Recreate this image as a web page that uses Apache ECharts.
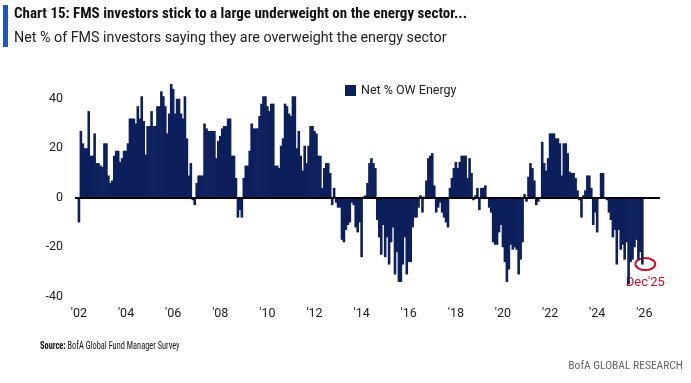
<!DOCTYPE html>
<html><head><meta charset="utf-8">
<script src="https://cdn.jsdelivr.net/npm/echarts@6/dist/echarts.min.js"></script>
<style>html,body{margin:0;padding:0;background:#fff}#c{width:691px;height:383px}</style>
</head><body><div id="c"></div>
<script>
const seriesName = 'Net % OW Energy';
const startYear = 2002;
// Net % of FMS investors overweight energy, monthly Jan 2002 .. Dec 2025
const netOwEnergy = [
  -10, 27, 22, 20, 20, 35, 17, 17, 26, 14, 14, 13,
  12.5, 22, 22, 9, 6, 7, 17, 19, 19, 14.5, 16, 19,
  19, 22, 32, 32, 32, 30, 37, 32, 41, 31, 17.5, 29,
  29, 35, 29, 29, 37, 37, 43, 41, 37, 26, 34, 46,
  44, 34, 40, 40, 34, 32, 41, 24, 9, 14, -1, -3,
  6, 9, 9, 9, 30, 28, 27, 27, 27, 27, 16, 23,
  25, 28, 29, 29, 32, 32, 17, 17, 8, -8, -5, -8,
  8, 13, 13, 19, 30, 28, 28, 28, 33, 38, 41, 41,
  37, 35, 38, 38, 13, 13, 12, 21, 24, 38, 37, 34,
  33, 41, 41, 20, 27, 17, 11, 21, 14, 21, 29, 29,
  27, 26, 17, 17, 4, 12, 14, 14, 10, -3, 4, -2,
  -4, -4, -17, -18, -13, -11, -10, -2, -3, -12, -14, -10,
  -24, 0.5, 1, 6, 14, 16, 14, 12, -9, -16, -23, -11,
  -24, -16, -27, -18, -12, -31, -22, -34, -34, -27, -16, -31,
  -26, -26, -12, -8, -8, -4, 1, -6, 0.5, 7, 16, 17,
  18, 5, -6, -4, -2, -6, -8, -10, -12, 4, 8, 12,
  14.5, 12, 14.5, 17, 17, 17, 8, 16, 10, -1, 1, 4,
  -5, 4, 4, 5, 0, -4, -6, -18, -19, -19, -14, -11,
  -20, -26, -34, -29, -19, -21, -20, -21, -31, -25, -18, 1.5,
  -1.6, 8.5, 14, 12, 7, -3, -1.6, 0.3, 22.6, 14, 11, 16,
  26, 26, 26, 24, 24, 22, 9, 22, 22, 18, 10.5, 10,
  10, 8, 3, -1, -8, 1, 3, 9, 9, 4, -11, -6,
  -14, 0, 10, 10, 0, -1, -6, -9, -16, -13, -27, -13,
  -21, -19, -25, -18, -35, -26, -25, -20, -17, -25, -22, -27
];
const yearTickLabels = ["'02","'04","'06","'08","'10","'12","'14","'16","'18","'20","'22","'24","'26"];
const yTickValues = [-40, -20, 0, 20, 40];
const lastLabel = "Dec'25";
const titleText = 'Chart 15: FMS investors stick to a large underweight on the energy sector...';
const subtitleText = 'Net % of FMS investors saying they are overweight the energy sector';
const sourceText = 'BofA Global Fund Manager Survey';
const brandText = 'BofA GLOBAL RESEARCH';

const monthNames = ['Jan','Feb','Mar','Apr','May','Jun','Jul','Aug','Sep','Oct','Nov','Dec'];
const months = netOwEnergy.map((v, i) => monthNames[i % 12] + '-' + String(startYear + Math.floor(i / 12)).slice(2));
const data = netOwEnergy.map((v, i) => ({name: months[i], value: [i, v]}));
const yearTickPos = yearTickLabels.map((_, j) => j * 24);

const NARROW = "'Liberation Sans Narrow','Roboto Condensed',sans-serif";
const FONT = "Roboto,'Liberation Sans',sans-serif";
const chart = echarts.init(document.getElementById('c'), null, {renderer: 'canvas'});
chart.setOption({
  animation: false,
  textStyle: {fontFamily: FONT},
  grid: {left: 75, right: 31, top: 74, bottom: 81.3},
  xAxis: {
    type: 'value', min: -2, max: 296,
    axisLine: {show: false}, axisTick: {show: false}, splitLine: {show: false},
    axisLabel: {customValues: yearTickPos, formatter: v => yearTickLabels[Math.round(v / 24)],
      fontSize: 12.5, color: '#222', margin: 6, fontFamily: FONT}
  },
  yAxis: {
    type: 'value', min: -42, max: 50,
    axisLine: {show: false}, axisTick: {show: false}, splitLine: {show: false},
    axisLabel: {customValues: yTickValues, fontSize: 12.5, color: '#222', margin: 12, fontFamily: FONT}
  },
  legend: {
    left: 340, top: 79, itemWidth: 11, itemHeight: 11, icon: 'rect', itemGap: 10,
    textStyle: {fontSize: 12.5, color: '#222', fontFamily: FONT}, data: [seriesName]
  },
  series: [{
    type: 'bar', name: seriesName, data: data, barWidth: 2.6,
    itemStyle: {color: '#0c1f5c'},
    markLine: {silent: true, symbol: 'none', label: {show: false},
      lineStyle: {color: '#000', width: 2, type: 'solid'}, data: [{yAxis: 0}]}
  }]
});
const lastIdx = netOwEnergy.length - 1;
const p = chart.convertToPixel({xAxisIndex: 0, yAxisIndex: 0}, [lastIdx, netOwEnergy[lastIdx]]);
chart.setOption({graphic: [
  {id: 'bar', type: 'rect', left: 3, top: 5, shape: {width: 5, height: 42}, style: {fill: '#1a56c9'}},
  {id: 'title', type: 'text', left: 14, top: 7, style: {text: titleText, font: 'bold 15px ' + NARROW, fill: '#111'}},
  {id: 'sub', type: 'text', left: 14, top: 31, style: {text: subtitleText, font: '14.3px ' + FONT, fill: '#222'}},
  {id: 'src', type: 'text', x: 40, y: 341, scaleX: 0.76, style: {
    text: '{b|Source:} ' + sourceText, font: '11px ' + NARROW, fill: '#111',
    rich: {b: {fontWeight: 'bold', fontSize: 11, fontFamily: NARROW, fill: '#111'}}}},
  {id: 'brand', type: 'text', right: 8, top: 360, style: {text: brandText, font: '11.5px ' + NARROW, fill: '#666'}},
  {id: 'ring', type: 'ellipse', shape: {cx: p[0] + 3, cy: p[1] - 0.5, rx: 10, ry: 6},
   style: {fill: 'none', stroke: '#c8102e', lineWidth: 2}},
  {id: 'dec', type: 'text', x: p[0] + 3, y: p[1] + 12, style: {text: lastLabel, font: '13px ' + FONT, fill: '#c8102e', align: 'center', verticalAlign: 'top'}}
]});
</script></body></html>
